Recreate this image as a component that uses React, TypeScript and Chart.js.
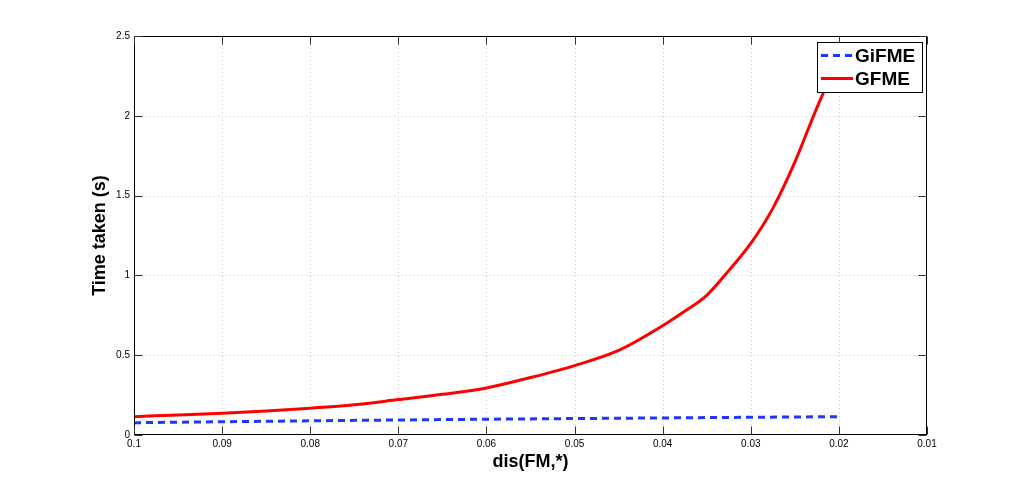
import React, { useEffect, useRef } from "react";
import { Chart, registerables } from "chart.js";

Chart.register(...registerables);

// ---- data ----
const gfmeX = [0.1, 0.095, 0.09, 0.085, 0.08, 0.075, 0.07, 0.065, 0.06, 0.055, 0.05, 0.045, 0.04, 0.0375, 0.035, 0.0325, 0.03, 0.0275, 0.025, 0.0225, 0.02];
const gfmeY = [0.115, 0.125, 0.136, 0.15, 0.168, 0.19, 0.222, 0.255, 0.295, 0.36, 0.435, 0.53, 0.685, 0.775, 0.875, 1.03, 1.2, 1.42, 1.71, 2.05, 2.36];
const gifmeX = [0.1, 0.09, 0.08, 0.07, 0.06, 0.05, 0.04, 0.03, 0.02];
const gifmeY = [0.077, 0.083, 0.089, 0.094, 0.099, 0.103, 0.107, 0.111, 0.115];
const xTickValues = [0.1, 0.09, 0.08, 0.07, 0.06, 0.05, 0.04, 0.03, 0.02, 0.01];
const yTickValues = [0, 0.5, 1, 1.5, 2, 2.5];
const seriesNames = ["GiFME", "GFME"];
const xTitle = "dis(FM,*)";
const yTitle = "Time taken (s)";

const FONT = "'Liberation Sans', Arial, Helvetica, sans-serif";

const framePlugin = {
  id: "matlabFrame",
  beforeDatasetsDraw(chart: any) {
    const { ctx, chartArea: a, scales } = chart;
    ctx.save();
    ctx.strokeStyle = "#c8c8c8";
    ctx.lineWidth = 1;
    ctx.setLineDash([1, 3]);
    for (const v of xTickValues) {
      const x = Math.round(scales.x.getPixelForValue(v)) + 0.5;
      if (x < a.left + 2 || x > a.right - 2) continue;
      ctx.beginPath();
      ctx.moveTo(x, a.top);
      ctx.lineTo(x, a.bottom);
      ctx.stroke();
    }
    for (const v of yTickValues) {
      const y = Math.round(scales.y.getPixelForValue(v)) + 0.5;
      if (y < a.top + 2 || y > a.bottom - 2) continue;
      ctx.beginPath();
      ctx.moveTo(a.left, y);
      ctx.lineTo(a.right, y);
      ctx.stroke();
    }
    ctx.restore();
  },
  afterDatasetsDraw(chart: any) {
    const { ctx, chartArea: a, scales } = chart;
    ctx.save();
    ctx.setLineDash([]);
    ctx.strokeStyle = "#000";
    ctx.lineWidth = 1;
    const L = Math.round(a.left) + 0.5;
    const R = Math.round(a.right) - 0.5;
    const T = Math.round(a.top) + 0.5;
    const B = Math.round(a.bottom) - 0.5;
    ctx.strokeRect(L, T, R - L, B - T);
    const tl = 8;
    ctx.strokeStyle = "#333";
    for (const v of xTickValues) {
      const x = Math.round(scales.x.getPixelForValue(v)) + 0.5;
      ctx.beginPath();
      ctx.moveTo(x, B);
      ctx.lineTo(x, B - tl);
      ctx.moveTo(x, T);
      ctx.lineTo(x, T + tl);
      ctx.stroke();
    }
    for (const v of yTickValues) {
      const y = Math.round(scales.y.getPixelForValue(v)) + 0.5;
      ctx.beginPath();
      ctx.moveTo(L, y);
      ctx.lineTo(L + tl, y);
      ctx.moveTo(R, y);
      ctx.lineTo(R - tl, y);
      ctx.stroke();
    }
    // legend
    const bx = 817.5, by = 42.5, bw = 105, bh = 50;
    ctx.fillStyle = "#fff";
    ctx.fillRect(bx, by, bw, bh);
    ctx.strokeStyle = "#000";
    ctx.lineWidth = 1;
    ctx.strokeRect(bx, by, bw, bh);
    const rows = [55.5, 78.5];
    chart.data.datasets.forEach((ds: any, i: number) => {
      ctx.save();
      ctx.strokeStyle = ds.borderColor;
      ctx.lineWidth = ds.borderWidth;
      ctx.setLineDash(ds.borderDash || []);
      ctx.beginPath();
      ctx.moveTo(821, rows[i]);
      ctx.lineTo(853, rows[i]);
      ctx.stroke();
      ctx.restore();
      ctx.fillStyle = "#000";
      ctx.font = `bold 19px ${FONT}`;
      ctx.textBaseline = "middle";
      ctx.textAlign = "left";
      ctx.fillText(ds.label, 855, rows[i] + 1);
    });
    ctx.restore();
  },
};

export default function App() {
  const ref = useRef<HTMLCanvasElement | null>(null);
  useEffect(() => {
    if (!ref.current) return;
    const chart = new Chart(ref.current, {
      type: "line",
      data: {
        datasets: [
          {
            label: seriesNames[0],
            data: gifmeX.map((x, i) => ({ x, y: gifmeY[i] })),
            borderColor: "#1f36ff",
            borderWidth: 3,
            borderDash: [7, 5],
            pointRadius: 0,
            fill: false,
            tension: 0,
          },
          {
            label: seriesNames[1],
            data: gfmeX.map((x, i) => ({ x, y: gfmeY[i] })),
            borderColor: "#ff0000",
            borderWidth: 3,
            pointRadius: 0,
            fill: false,
            cubicInterpolationMode: "monotone",
          },
        ],
      },
      options: {
        responsive: false,
        animation: false,
        devicePixelRatio: 1,
        layout: { padding: { left: 88, top: 36, right: 97, bottom: 0 } },
        plugins: { legend: { display: false }, tooltip: { enabled: false } },
        scales: {
          x: {
            type: "linear",
            reverse: true,
            min: 0.01,
            max: 0.1,
            afterFit: (s: any) => { s.height = 54; },
            afterBuildTicks: (s: any) => { s.ticks = xTickValues.map((value) => ({ value })); },
            grid: { display: false, drawTicks: false },
            border: { display: false },
            ticks: {
              padding: 3,
              autoSkip: false,
              maxRotation: 0,
              color: "#000",
              font: { family: FONT, size: 10 },
              callback: (v: any) => String(Number(Number(v).toFixed(2))),
            },
            title: {
              display: true,
              text: xTitle,
              color: "#000",
              font: { family: FONT, size: 18, weight: "bold" },
              padding: { top: 0, bottom: 16 },
            },
          },
          y: {
            type: "linear",
            min: 0,
            max: 2.5,
            afterFit: (s: any) => { s.width = 46; },
            afterBuildTicks: (s: any) => { s.ticks = yTickValues.map((value) => ({ value })); },
            grid: { display: false, drawTicks: false },
            border: { display: false },
            ticks: {
              padding: 4,
              autoSkip: false,
              color: "#000",
              font: { family: FONT, size: 10 },
              callback: (v: any) => String(Number(Number(v).toFixed(2))),
            },
            title: {
              display: true,
              text: yTitle,
              color: "#000",
              font: { family: FONT, size: 18, weight: "bold" },
              padding: { top: 1, bottom: 0 },
            },
          },
        },
      },
      plugins: [framePlugin],
    } as any);
    return () => chart.destroy();
  }, []);
  return (
    <div style={{ position: "absolute", left: 0, top: 0, width: 1024, height: 489, background: "#fff" }}>
      <canvas ref={ref} width={1024} height={489} style={{ width: 1024, height: 489, display: "block" }} />
    </div>
  );
}
